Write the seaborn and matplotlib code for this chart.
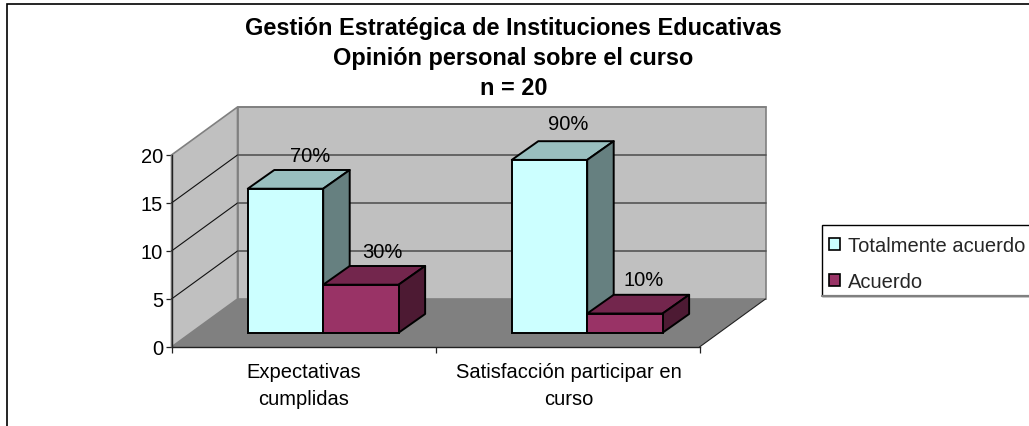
import matplotlib
matplotlib.use("Agg")
import matplotlib.pyplot as plt
from matplotlib.patches import Polygon, Rectangle
from matplotlib.lines import Line2D
import numpy as np
import pandas as pd
import seaborn as sns

categories = ["Expectativas\ncumplidas", "Satisfacción participar en\ncurso"]
series_names = ["Totalmente acuerdo", "Acuerdo"]
totalmente = [15, 18]
acuerdo = [5, 2]
labels_totalmente = ["70%", "90%"]
labels_acuerdo = ["30%", "10%"]
y_ticks = [0, 5, 10, 15, 20]
title_lines = "Gestión Estratégica de Instituciones Educativas\nOpinión personal sobre el curso\nn = 20"

W, H = 1029, 427
sns.set_theme(style="white")
plt.rcParams["font.family"] = ["Liberation Sans", "DejaVu Sans"]
FS = 14.5

colors = ["#CCFFFF", "#993366"]
def shade(c, f):
    r = np.array(matplotlib.colors.to_rgb(c)) * f
    return tuple(r)

fig = plt.figure(figsize=(W / 100, H / 100), dpi=100, facecolor="white")

def rect(l, t, r, b):
    return [l / W, 1 - b / H, (r - l) / W, (b - t) / H]

# outer chart frame (only its top and left edges fall inside the picture)
fig.add_artist(Rectangle((7 / W, -0.1), 1.1, 1.1 - 5 / H, transform=fig.transFigure,
                         fc="none", ec="black", lw=1.2))

# front plane of the chart box
X0, X1, Y0, Y1 = 171.5, 699.5, 348, 156
ax = fig.add_axes(rect(X0, Y1, X1, Y0), facecolor="none")
ax.set_xlim(-0.5, 1.5)
ax.set_ylim(0, 20)
ux = (X1 - X0) / 2          # px per category
uy = (Y0 - Y1) / 20         # px per value
DX, DY = 66 / ux, 48 / uy   # full box depth in data units

wall = "#C0C0C0"
floor = "#808080"
edge = "#808080"
xa, xb = -0.5, 1.5
ax.add_patch(Polygon([(xa + DX, DY), (xb + DX, DY), (xb + DX, 20 + DY), (xa + DX, 20 + DY)],
                     fc=wall, ec=edge, lw=1.2, clip_on=False, zorder=1))
ax.add_patch(Polygon([(xa, 0), (xa + DX, DY), (xa + DX, 20 + DY), (xa, 20)],
                     fc=wall, ec=edge, lw=1.2, clip_on=False, zorder=1))
ax.add_patch(Polygon([(xa, 0), (xb, 0), (xb + DX, DY), (xa + DX, DY)],
                     fc=floor, ec="none", clip_on=False, zorder=1))
ax.plot([xb, xb + DX], [0, DY], color="#222222", lw=0.8, clip_on=False, zorder=1.5)
for t in y_ticks[1:-1]:
    ax.plot([xa, xa + DX], [t, t + DY], color="#111111", lw=0.8, clip_on=False, zorder=1.5)
    ax.plot([xa + DX, xb + DX], [t + DY, t + DY], color="#555555", lw=1.2, clip_on=False, zorder=1.5)
ax.plot([xa + DX, xb + DX], [20 + DY, 20 + DY], color=edge, lw=1.2, clip_on=False, zorder=1.5)

ax.set_xticks([-0.5, 0.5, 1.5])
ax.set_xticklabels([])
ax.set_yticks(y_ticks)
ax.tick_params(axis="y", left=True, length=4, width=0.9, color="#222222", labelsize=FS, pad=2, labelcolor="black")
ax.tick_params(axis="x", bottom=True, length=4, width=0.9, color="#222222")
for s in ["top", "right"]:
    ax.spines[s].set_visible(False)
for s in ["left", "bottom"]:
    ax.spines[s].set_color("#222222")
    ax.spines[s].set_linewidth(1.0)
    ax.spines[s].set_zorder(2)
for i, c in enumerate(categories):
    ax.text(i + 0.005 * i, -1.55, c, ha="center", va="top", fontsize=FS, color="black", linespacing=1.55)

# plane holding the front faces of the bars
BDX, BDY = 19.7, 14.3
ax2 = fig.add_axes(rect(X0 + BDX, Y1 - BDY, X1 + BDX, Y0 - BDY), facecolor="none")
df = pd.DataFrame({
    "cat": categories * 2,
    "serie": [series_names[0]] * 2 + [series_names[1]] * 2,
    "val": totalmente + acuerdo,
})
sns.barplot(data=df, x="cat", y="val", hue="serie", hue_order=series_names, palette=colors,
            width=2 / 3.5, saturation=1, gap=0, dodge=True, ax=ax2, legend=False,
            edgecolor="black", linewidth=1.4)
ax2.set_xlim(-0.5, 1.5)
ax2.set_ylim(0, 20)
ax2.axis("off")

bdx = 26.5 / ux
bdy = 18.7 / uy
texts = labels_totalmente + labels_acuerdo
label_shift_x = [-2, -8, -5, -8]
label_shift_y = [-2, 1, -2, -1]
series_of = [0, 0, 1, 1]
bars = list(ax2.patches)[:4]
for n, b in enumerate(bars):
    x, w, h = b.get_x(), b.get_width(), b.get_height()
    col = colors[series_of[n]]
    z = 3 + 2 * (n % 2) + series_of[n]
    b.set_zorder(z + 0.2)
    b.set_clip_on(False)
    ax2.add_patch(Polygon([(x, h), (x + w, h), (x + w + bdx, h + bdy), (x + bdx, h + bdy)],
                          fc=shade(col, 0.75), ec="black", lw=1.4, joinstyle="round", clip_on=False, zorder=z))
    ax2.add_patch(Polygon([(x + w, 0), (x + w + bdx, bdy), (x + w + bdx, h + bdy), (x + w, h)],
                          fc=shade(col, 0.5), ec="black", lw=1.4, joinstyle="round", clip_on=False, zorder=z + 0.1))
    ax2.text(x + w / 2 + bdx + label_shift_x[n] / ux, h + bdy + 1.7 + label_shift_y[n] / uy, texts[n],
             ha="center", va="center", fontsize=FS, color="black", clip_on=False, zorder=10)

fig.suptitle(title_lines, x=513.5 / W, y=1 - 17 / H, va="top", ha="center",
             fontsize=16.9, fontweight="bold", color="black", linespacing=1.38)

# legend box runs past the right edge of the picture
fig.add_artist(Rectangle((822 / W, 1 - 296.5 / H), 0.3, 70.5 / H, transform=fig.transFigure,
                         fc="white", ec="black", lw=1.0))
fig.add_artist(Line2D([822 / W, 1], [1 - 297 / H] * 2, transform=fig.transFigure, color="#808080", lw=1.6))
handles = [Rectangle((0, 0), 1, 1, fc=c, ec="black", lw=1.2) for c in colors]
leg = fig.legend(handles, series_names, loc="upper left", bbox_to_anchor=(829 / W, 1 - 237 / H),
                 fontsize=FS, frameon=False, handlelength=0.55, handleheight=0.55, handletextpad=0.4,
                 labelspacing=0.85, borderpad=0, borderaxespad=0)
fig.savefig("out.png", dpi=100)
